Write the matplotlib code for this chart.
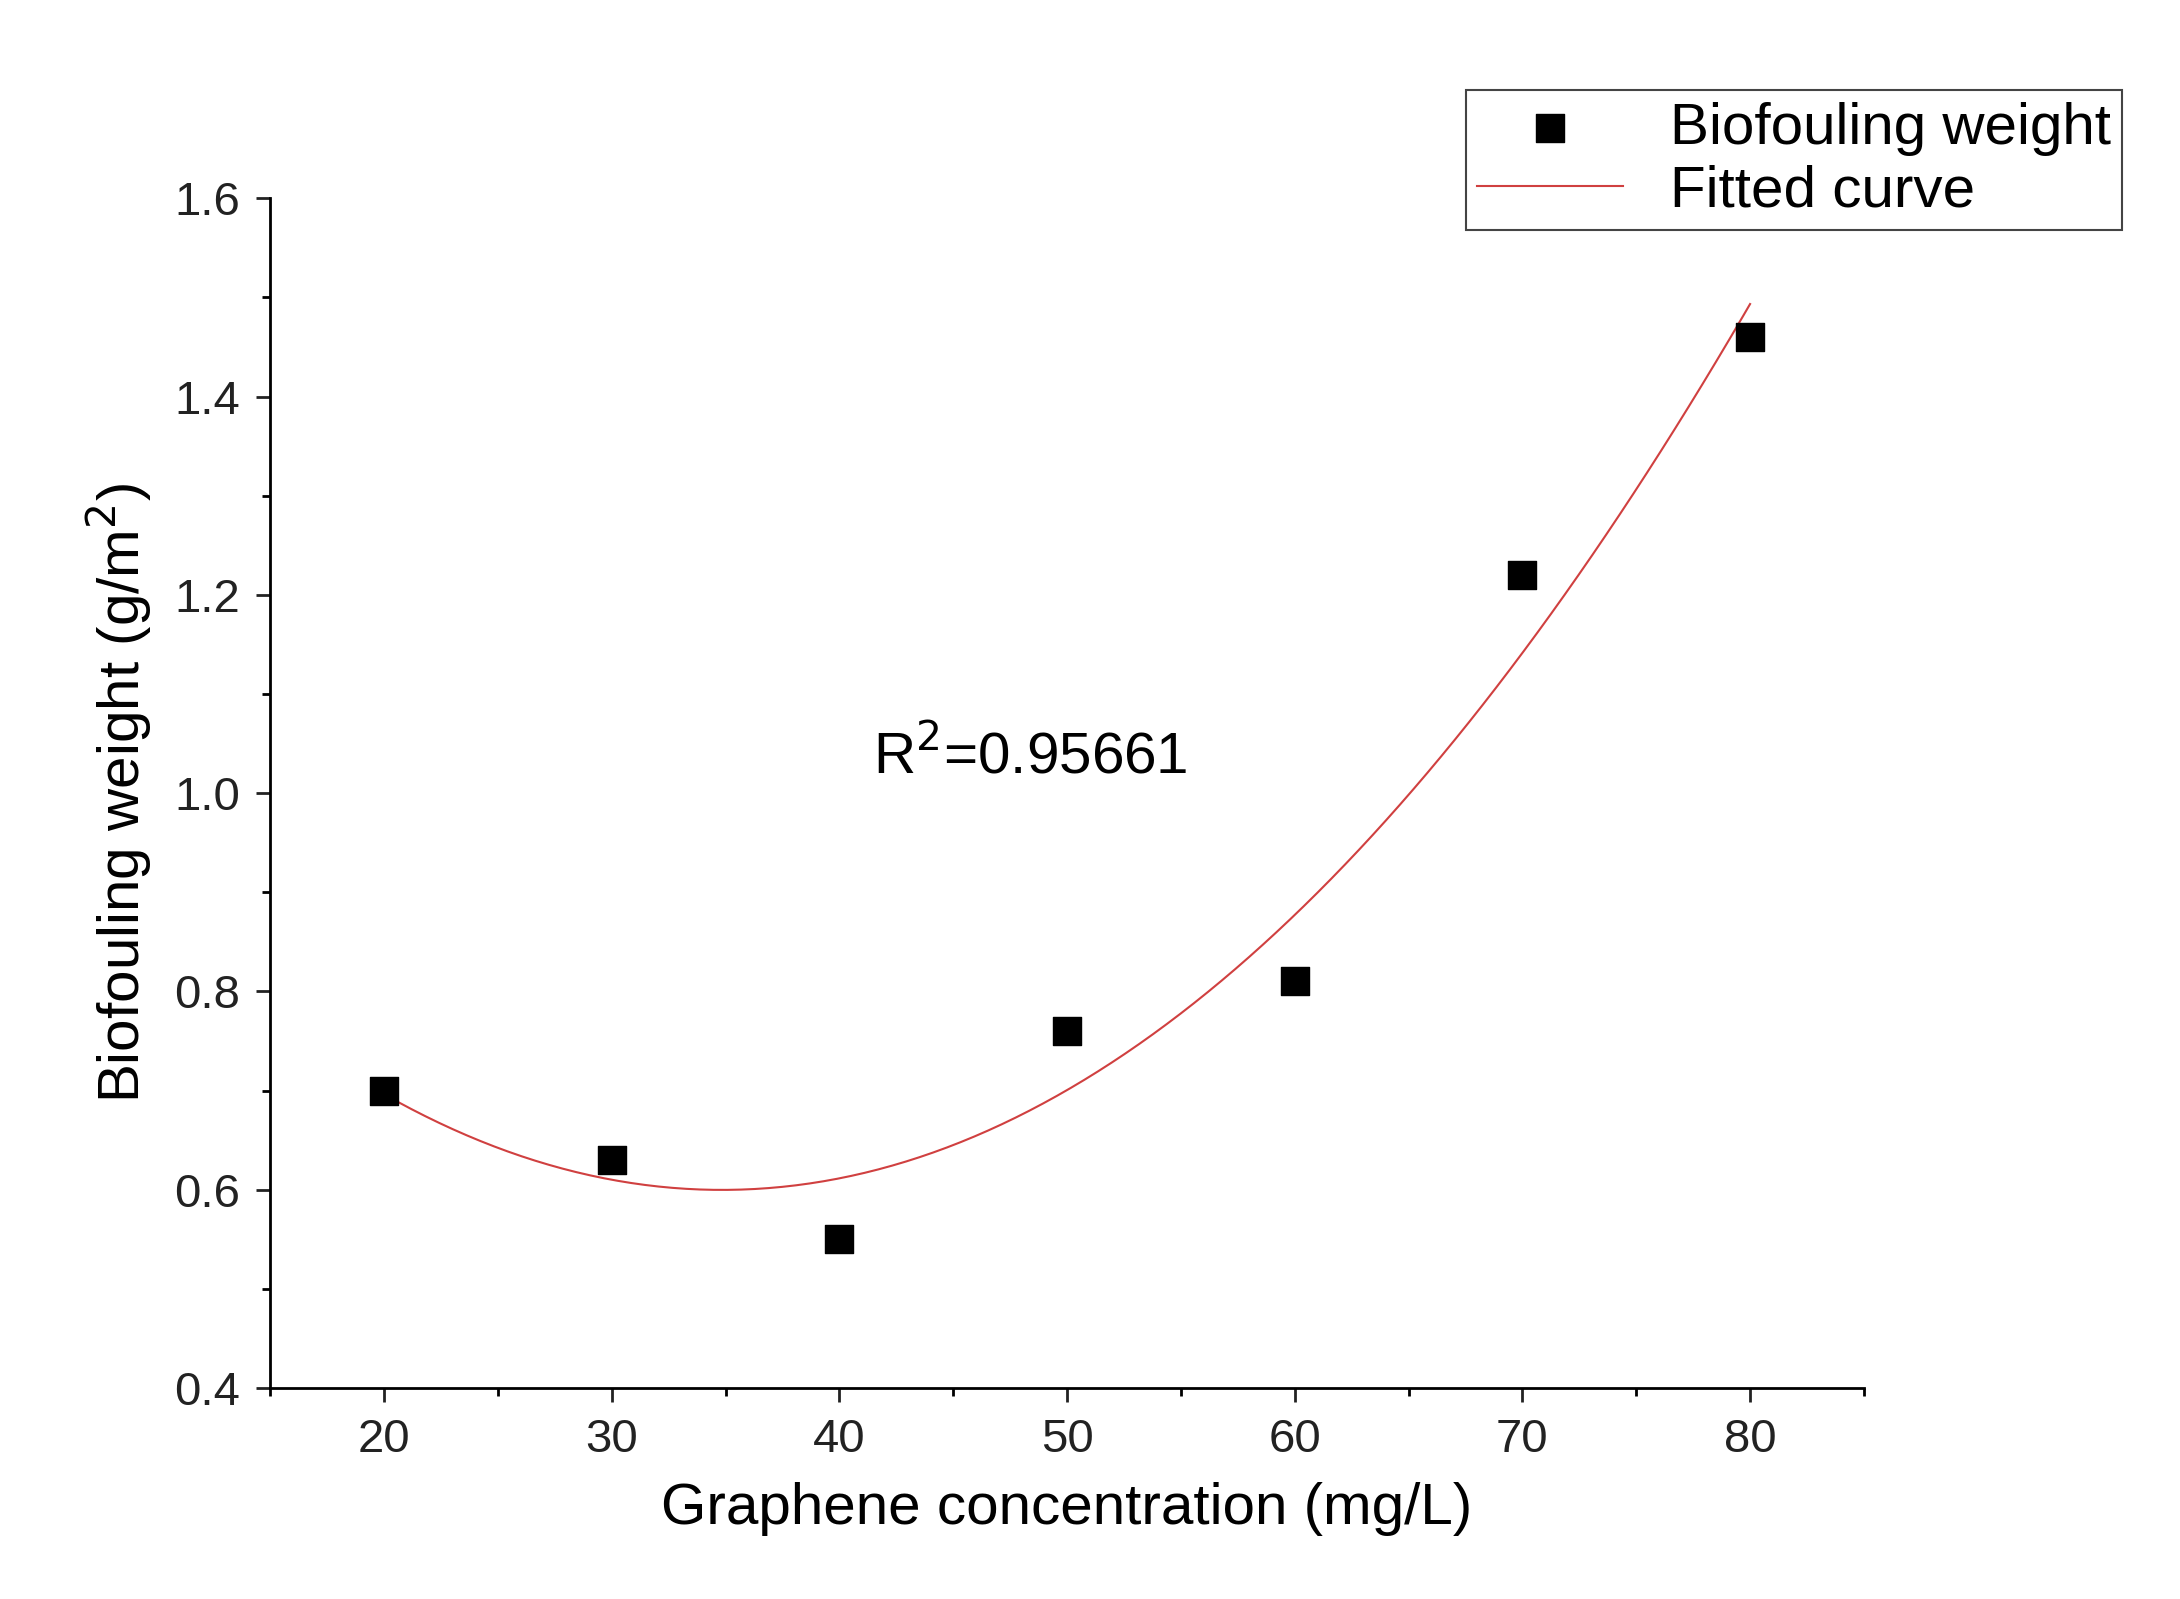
import numpy as np
import matplotlib
matplotlib.use("Agg")
import matplotlib.pyplot as plt
from matplotlib.ticker import MultipleLocator

conc = [20, 30, 40, 50, 60, 70, 80]
weight = [0.70, 0.63, 0.55, 0.76, 0.81, 1.22, 1.46]

plt.rcParams['font.family'] = ['Liberation Sans', 'DejaVu Sans']
fig = plt.figure(figsize=(21.8, 15.99), dpi=100)
ax = fig.add_axes([0.124, 0.132, 0.731, 0.744])

coef = np.polyfit(conc, weight, 2)
xs = np.linspace(20, 80, 200)
ax.plot(xs, np.polyval(coef, xs), color='#d04040', lw=1.5, label='Fitted curve')
ax.scatter(conc, weight, marker='s', s=380, color='black', zorder=3, label='Biofouling weight')

ax.set_xlim(15, 85)
ax.set_ylim(0.4, 1.6)
ax.xaxis.set_major_locator(MultipleLocator(10))
ax.xaxis.set_minor_locator(MultipleLocator(5))
ax.yaxis.set_major_locator(MultipleLocator(0.2))
ax.yaxis.set_minor_locator(MultipleLocator(0.1))
ax.yaxis.set_major_formatter(matplotlib.ticker.FormatStrFormatter('%.1f'))
for s in ['top', 'right']:
    ax.spines[s].set_visible(False)
for s in ['left', 'bottom']:
    ax.spines[s].set_linewidth(2)
ax.tick_params(which='major', length=10, width=2, labelsize=34, colors='#222222', pad=12)
ax.tick_params(which='minor', length=6, width=2)
ax.set_xlabel('Graphene concentration (mg/L)', fontsize=42, labelpad=14)
ax.set_ylabel('Biofouling weight (g/m$^2$)', fontsize=42, labelpad=14)
ax.text(48.4, 1.02, 'R$^2$=0.95661', fontsize=42, ha='center')

h, l = ax.get_legend_handles_labels()
leg = fig.legend([h[1], h[0]], [l[1], l[0]], loc='upper right', bbox_to_anchor=(0.987, 0.962),
                 fontsize=42, fancybox=False, edgecolor='#444444', framealpha=1,
                 handlelength=2.5, borderpad=0.2, labelspacing=0.15)
leg.get_frame().set_linewidth(1.5)
fig.savefig('out.png')
